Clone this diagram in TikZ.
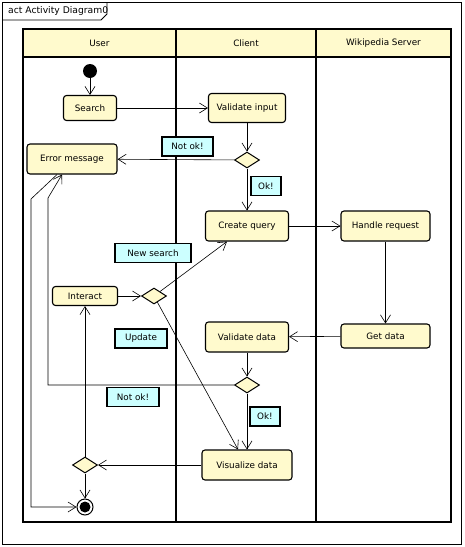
\documentclass[tikz,border=0pt]{standalone}
\usepackage{fontspec}
\setmainfont{DejaVu Sans}
\usetikzlibrary{shapes.geometric,arrows.meta}
\definecolor{actyellow}{RGB}{255,250,205}
\definecolor{notecyan}{RGB}{204,255,255}

\begin{document}
\begin{tikzpicture}[x=1pt,y=-1pt,
  font=\fontsize{8.8}{10}\selectfont,
  action/.style={draw,rounded corners=3pt,fill=actyellow,line width=1.1pt,minimum height=30pt,inner sep=1pt},
  decision/.style={diamond,draw,fill=actyellow,line width=1pt,minimum width=25pt,minimum height=16pt,inner sep=0pt},
  note/.style={draw,fill=notecyan,line width=1.7pt,minimum height=19pt,inner xsep=3pt},
  lane/.style={line width=1.6pt},
  flow/.style={-{Straight Barb[length=8pt,width=10pt]},line width=0.6pt}]
  \useasboundingbox (0,0) rectangle (464,547);
  \draw[line width=0.8pt] (2,2) rectangle (461,544);
  \draw[line width=0.8pt] (2,20) -- (101,20) -- (107,14) -- (107,2);
  \node[anchor=west,inner sep=0pt,font=\fontsize{9.2}{11}\selectfont] (title) at (8,11) {act Activity Diagram0};
  \fill[actyellow] (23,29) rectangle (451,57);
  \draw[lane] (23,29) rectangle (451,522);
  \draw[lane] (23,57) -- (451,57);
  \draw[lane] (176,29) -- (176,522);
  \draw[lane] (316,29) -- (316,522);
  \node (user) at (99.5,43) {User};
  \node (client) at (246,43) {Client};
  \node (server) at (383.5,43) {Wikipedia Server};
  \node[circle,fill=black,minimum size=14pt,inner sep=0pt] (init) at (90,71) {};
  \node[action,minimum width=53pt,minimum height=25pt] (search) at (90,108) {Search};
  \node[action,minimum width=77pt,minimum height=29pt] (valinput) at (247,108) {Validate input};
  \node[action,minimum width=90pt] (error) at (72,159) {Error message};
  \node[decision] (d1) at (247,160) {};
  \node[action,minimum width=83pt] (query) at (247,226) {Create query};
  \node[action,minimum width=89pt] (handle) at (385.5,226) {Handle request};
  \node[action,minimum width=89pt,minimum height=24pt] (getdata) at (385.5,336) {Get data};
  \node[action,minimum width=83pt] (valdata) at (247,337) {Validate data};
  \node[action,minimum width=65pt,minimum height=19pt] (interact) at (85,296) {Interact};
  \node[decision] (d2) at (154,296) {};
  \node[decision] (d3) at (247,385) {};
  \node[action,minimum width=90pt] (visual) at (247,465) {Visualize data};
  \node[decision] (d4) at (85,465) {};
  \node[circle,draw,fill=white,line width=1pt,minimum size=16pt,inner sep=0pt] (final) at (85,507) {};
  \fill (final) circle (5.5pt);
  \coordinate (back1) at (48,198);
  \coordinate (back2) at (31,199);
  \draw[flow] (init) -- (search);
  \draw[flow] (search) -- (valinput);
  \draw[flow] (valinput) -- (d1);
  \draw[flow] (d1) -- (error);
  \draw[flow] (d1) -- (query);
  \draw[flow] (query) -- (handle);
  \draw[flow] (handle) -- (getdata);
  \draw[flow] (getdata) -- (valdata);
  \draw[flow] (valdata) -- (d3);
  \draw[flow] (d3) -| (back1) -- ([xshift=-10pt]error.south);
  \draw[flow] ([xshift=-15pt]error.south) -- (back2) |- (final);
  \draw[flow] (interact) -- (d2);
  \draw[flow] (d2) -- ([xshift=-20pt]query.south);
  \draw[flow] (d2) -- ([xshift=-9pt]visual.north);
  \draw[flow] (d3) -- (visual);
  \draw[flow] (visual) -- (d4);
  \draw[flow] (d4) -- (interact);
  \draw[flow] (d4) -- (final);
  \node[note,minimum width=51pt] (notok1) at (187.5,146.5) {Not ok!};
  \node[note,minimum width=30pt] (ok1) at (266,186) {Ok!};
  \node[note,minimum width=76pt] (newsearch) at (153,253) {New search};
  \node[note,minimum width=52pt] (update) at (141,338.5) {Update};
  \node[note,minimum width=52pt] (notok2) at (133,397) {Not ok!};
  \node[note,minimum width=30pt] (ok2) at (265,416.5) {Ok!};
\end{tikzpicture}
\end{document}
